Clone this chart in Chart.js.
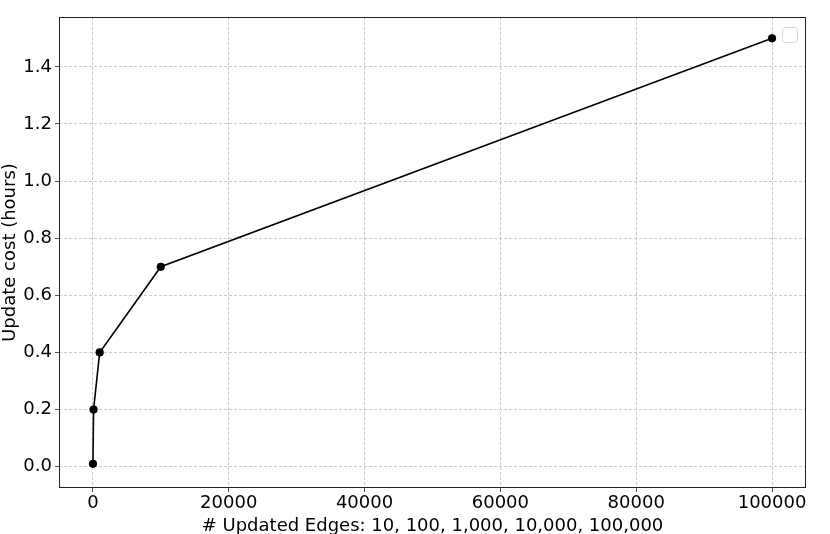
<!DOCTYPE html>
<html>
  <head>
    <script src="https://cdn.jsdelivr.net/npm/chart.js"></script>
    <style>
      html, body { margin: 0; padding: 0; background: #fff; }
      #wrap { width: 830px; height: 534px; }
    </style>
  </head>
  <body>
    <div id="wrap">
      <canvas id="Chart" width="830" height="534"></canvas>
    </div>
    <script>
      // values
      const updatedEdges = [10, 100, 1000, 10000, 100000];
      const updateCost = [0.01, 0.2, 0.4, 0.7, 1.5];
      const xTicks = [0, 20000, 40000, 60000, 80000, 100000];
      const yTicks = [0.0, 0.2, 0.4, 0.6, 0.8, 1.0, 1.2, 1.4];

      const FONT = "'DejaVu Sans', sans-serif";

      // full frame + the empty legend box matplotlib leaves behind
      const framePlugin = {
        id: "frame",
        afterDraw(chart) {
          const { ctx, chartArea: a } = chart;
          ctx.save();
          ctx.strokeStyle = "#222";
          ctx.lineWidth = 1;
          ctx.strokeRect(a.left + 0.5, a.top + 0.5, a.right - a.left - 1, a.bottom - a.top - 1);
          // empty legend
          const lx = a.right - 24, ly = a.top + 10, s = 15, r = 3;
          ctx.fillStyle = "rgba(255,255,255,0.8)";
          ctx.strokeStyle = "#d6d6d6";
          ctx.beginPath();
          ctx.roundRect(lx + 0.5, ly + 0.5, s, s, r);
          ctx.fill();
          ctx.stroke();
          ctx.restore();
        },
      };

      const gridOpts = {
        color: "#bdbdbd",
        lineWidth: 0.8,
        tickColor: "#222",
        tickLength: 4,
        tickBorderDash: [],
      };

      const ctx = document.getElementById("Chart");
      new Chart(ctx, {
        type: "line",
        data: {
          datasets: [
            {
              data: updatedEdges.map((x, i) => ({ x: x, y: updateCost[i] })),
              borderColor: "#000",
              backgroundColor: "#000",
              borderWidth: 1.6,
              pointRadius: 3.3,
              pointHoverRadius: 3.3,
              tension: 0,
            },
          ],
        },
        plugins: [framePlugin],
        options: {
          responsive: false,
          animation: false,
          layout: { padding: { top: 17, right: 24, left: 0, bottom: 0 } },
          plugins: { legend: { display: false }, tooltip: { enabled: false } },
          scales: {
            x: {
              type: "linear",
              min: -4989.5,
              max: 104999.5,
              afterBuildTicks: (scale) => {
                scale.ticks = xTicks.map((v) => ({ value: v }));
              },
              afterFit: (scale) => {
                scale.height = 46;
              },
              border: { display: false, dash: [3, 2] },
              grid: gridOpts,
              ticks: {
                padding: 1,
                maxRotation: 0,
                color: "#000",
                font: { family: FONT, size: 18 },
                callback: (v) => String(v),
              },
              title: {
                display: true,
                text: "# Updated Edges: 10, 100, 1,000, 10,000, 100,000",
                color: "#000",
                font: { family: FONT, size: 18 },
                padding: { top: 0, bottom: -3 },
              },
            },
            y: {
              type: "linear",
              min: -0.0745,
              max: 1.5745,
              afterBuildTicks: (scale) => {
                scale.ticks = yTicks.map((v) => ({ value: v }));
              },
              afterFit: (scale) => {
                scale.width = 59;
              },
              border: { display: false, dash: [3, 2] },
              grid: gridOpts,
              ticks: {
                padding: 3,
                color: "#000",
                font: { family: FONT, size: 18 },
                callback: (v) => v.toFixed(1),
              },
              title: {
                display: true,
                text: "Update cost (hours)",
                color: "#000",
                font: { family: FONT, size: 18 },
                padding: { top: 0, bottom: 0 },
              },
            },
          },
        },
      });
    </script>
  </body>
</html>
